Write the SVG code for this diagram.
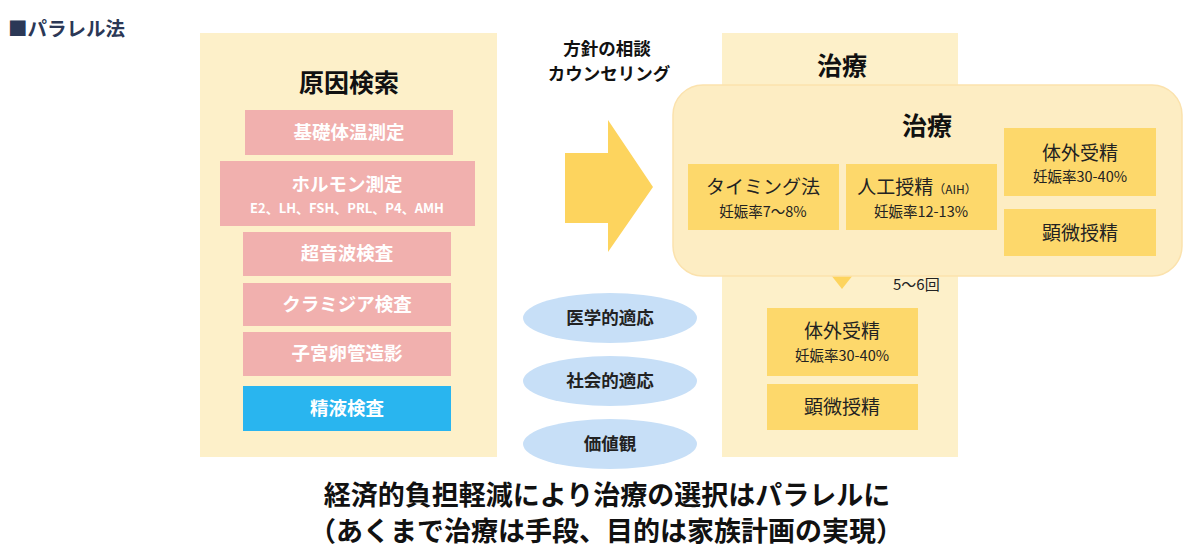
<svg xmlns="http://www.w3.org/2000/svg" width="1196" height="552" viewBox="0 0 1196 552">
<style>
text{font-family:"Noto Sans CJK JP","Noto Sans",sans-serif;text-anchor:middle}
.panel{fill:#fdf0c9}
.pink{fill:#f1b0ae}
.pt{fill:#ffffff;font-weight:bold;font-size:18.5px}
.yb{fill:#fdd86b}
.yt{fill:#222;font-size:19px}
.ys{fill:#222;font-size:14.5px}
.ell{fill:#c7dff7}
.et{fill:#222;font-weight:bold;font-size:17.5px}
.h{fill:#111;font-weight:bold;font-size:25px}
</style>
<rect width="1196" height="552" fill="#ffffff"/>
<text x="8" y="36" style="text-anchor:start;font-size:19.5px;font-weight:bold;fill:#2b3856">■パラレル法</text>

<g id="cause-panel">
<rect class="panel" x="200" y="33" width="297" height="424"/>
<text class="h" x="349" y="92">原因検索</text>
</g>
<g id="bbt"><rect class="pink" x="245" y="110" width="208" height="45"/><text class="pt" x="349" y="139">基礎体温測定</text></g>
<g id="hormone"><rect class="pink" x="220" y="161" width="255" height="65"/><text class="pt" x="347" y="191">ホルモン測定</text><text x="347" y="213" style="fill:#fff;font-weight:bold;font-size:13px">E2、LH、FSH、PRL、P4、AMH</text></g>
<g id="echo"><rect class="pink" x="243" y="232" width="208" height="44"/><text class="pt" x="347" y="260">超音波検査</text></g>
<g id="chlamydia"><rect class="pink" x="243" y="283" width="208" height="43"/><text class="pt" x="347" y="311">クラミジア検査</text></g>
<g id="hsg"><rect class="pink" x="243" y="332" width="208" height="44"/><text class="pt" x="347" y="360">子宮卵管造影</text></g>
<g id="semen"><rect x="243" y="386" width="208" height="45" fill="#29b5ef"/><text class="pt" x="347" y="415">精液検査</text></g>

<g id="counseling">
<text x="607" y="55" style="font-weight:bold;font-size:17.5px;fill:#111">方針の相談</text>
<text x="609" y="80" style="font-weight:bold;font-size:17.5px;fill:#111">カウンセリング</text>
</g>

<g id="connectors">
<polygon points="565,153 608,153 608,120 653,187 608,252 608,223 565,223" fill="#fdd45e"/>
</g>

<g id="medical"><ellipse class="ell" cx="610" cy="318" rx="87" ry="25"/><text class="et" x="610" y="324">医学的適応</text></g>
<g id="social"><ellipse class="ell" cx="610" cy="381" rx="87" ry="25"/><text class="et" x="610" y="387">社会的適応</text></g>
<g id="values"><ellipse class="ell" cx="610" cy="444" rx="87" ry="25"/><text class="et" x="610" y="450">価値観</text></g>

<g id="treat-panel">
<rect class="panel" x="722" y="33" width="236" height="424"/>
<text class="h" x="842" y="75">治療</text>
<polygon points="827,270 857,270 842,289" fill="#fdd45e"/>
<text x="893" y="290" style="text-anchor:start;font-size:15px;fill:#222">5〜6回</text>
</g>
<g id="ivf2"><rect class="yb" x="767" y="308" width="151" height="68"/><text class="yt" x="842" y="338">体外受精</text><text class="ys" x="842" y="361">妊娠率30-40%</text></g>
<g id="icsi2"><rect class="yb" x="767" y="384" width="151" height="46"/><text class="yt" x="842" y="414">顕微授精</text></g>

<g id="treat-overlay">
<rect x="673" y="85" width="509" height="191" rx="30" fill="#fdedc3" stroke="#fbe2ad" stroke-width="1.5"/>
<text class="h" x="927" y="135">治療</text>
</g>
<g id="timing"><rect class="yb" x="688" y="164" width="151" height="66"/><text class="yt" x="763" y="194">タイミング法</text><text class="ys" x="763" y="217">妊娠率7〜8%</text></g>
<g id="aih"><rect class="yb" x="846" y="164" width="151" height="66"/><text class="yt" x="917" y="194">人工授精<tspan style="font-size:12px">（AIH）</tspan></text><text class="ys" x="921" y="217">妊娠率12-13%</text></g>
<g id="ivf"><rect class="yb" x="1004" y="128" width="152" height="68"/><text class="yt" x="1080" y="160">体外受精</text><text class="ys" x="1080" y="182">妊娠率30-40%</text></g>
<g id="icsi"><rect class="yb" x="1004" y="209" width="152" height="47"/><text class="yt" x="1080" y="240">顕微授精</text></g>

<g id="summary">
<text x="607" y="505" style="font-weight:bold;font-size:27px;fill:#111">経済的負担軽減により治療の選択はパラレルに</text>
<text x="606" y="541" style="font-weight:bold;font-size:27px;fill:#111">（あくまで治療は手段、目的は家族計画の実現）</text>
</g>
</svg>
